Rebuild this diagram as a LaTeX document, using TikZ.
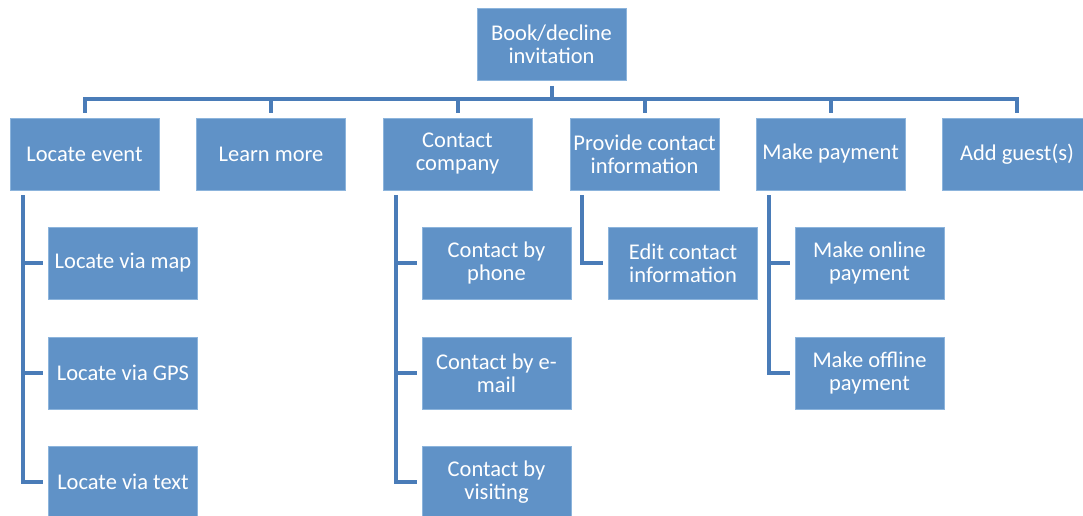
\documentclass[tikz,border=0pt]{standalone}
\usepackage{fontspec}
\setmainfont{Carlito}
\definecolor{boxblue}{RGB}{96,146,199}
\definecolor{boxedge}{RGB}{140,180,220}
\definecolor{linkblue}{RGB}{74,124,184}
\begin{document}
\begin{tikzpicture}[x=1pt,y=-1pt,
  box/.style={rectangle, fill=boxblue, draw=boxedge, line width=0.6pt,
    minimum width=149pt, minimum height=72pt, inner sep=1pt,
    text=white, align=center, font=\fontsize{22.5}{23}\selectfont},
  conn/.style={draw=linkblue, line width=4pt}]
\useasboundingbox (0,0) rectangle (1083,516);
\clip (0,0) rectangle (1083,516);

% top level
\node[box] (root) at (551.5,44.5) {Book/decline\\invitation};

% first level
\node[box] (loc)   at (84.5,154)  {Locate event};
\node[box] (learn) at (271,154)   {Learn more};
\node[box] (cont)  at (457.5,154) {Contact\\company};
\node[box] (prov)  at (644.5,154) {Provide contact\\information};
\node[box] (pay)   at (830.5,154) {Make payment};
\node[box] (guest) at (1017,154)  {Add guest(s)};

% second level
\node[box] (map)     at (123,263)   {Locate via map};
\node[box] (gps)     at (123,373)   {Locate via GPS};
\node[box] (txt)     at (123,482)   {Locate via text};
\node[box] (phone)   at (496.5,263) {Contact by\\phone};
\node[box] (mail)    at (496.5,373) {Contact by e-\\mail};
\node[box] (visit)   at (496.5,482) {Contact by\\visiting};
\node[box] (edit)    at (683,263)   {Edit contact\\information};
\node[box] (online)  at (869.5,263) {Make online\\payment};
\node[box] (offline) at (869.5,373) {Make offline\\payment};

% bus between the top box and the first level
\coordinate (bus) at (0,99);
\draw[conn] ([yshift=-5pt]root.south) -- (root.south |- bus);
\draw[conn] ([yshift=5pt]loc.north) -- (loc.north |- bus)
  -- (guest.north |- bus) -- ([yshift=5pt]guest.north);
\foreach \n in {learn,cont,prov,pay}
  \draw[conn] (\n.north |- bus) -- ([yshift=5pt]\n.north);

% trunks down to the second level
\draw[conn] ([xshift=13pt,yshift=-5pt]loc.south west) |- ([xshift=-5pt]txt.west);
\foreach \n in {map,gps}
  \draw[conn] ([xshift=13pt]loc.south west |- \n.west) -- ([xshift=-5pt]\n.west);

\draw[conn] ([xshift=13pt,yshift=-5pt]cont.south west) |- ([xshift=-5pt]visit.west);
\foreach \n in {phone,mail}
  \draw[conn] ([xshift=13pt]cont.south west |- \n.west) -- ([xshift=-5pt]\n.west);

\draw[conn] ([xshift=12.5pt,yshift=-5pt]prov.south west) |- ([xshift=-5pt]edit.west);

\draw[conn] ([xshift=13pt,yshift=-5pt]pay.south west) |- ([xshift=-5pt]offline.west);
\draw[conn] ([xshift=13pt]pay.south west |- online.west) -- ([xshift=-5pt]online.west);
\end{tikzpicture}
\end{document}
